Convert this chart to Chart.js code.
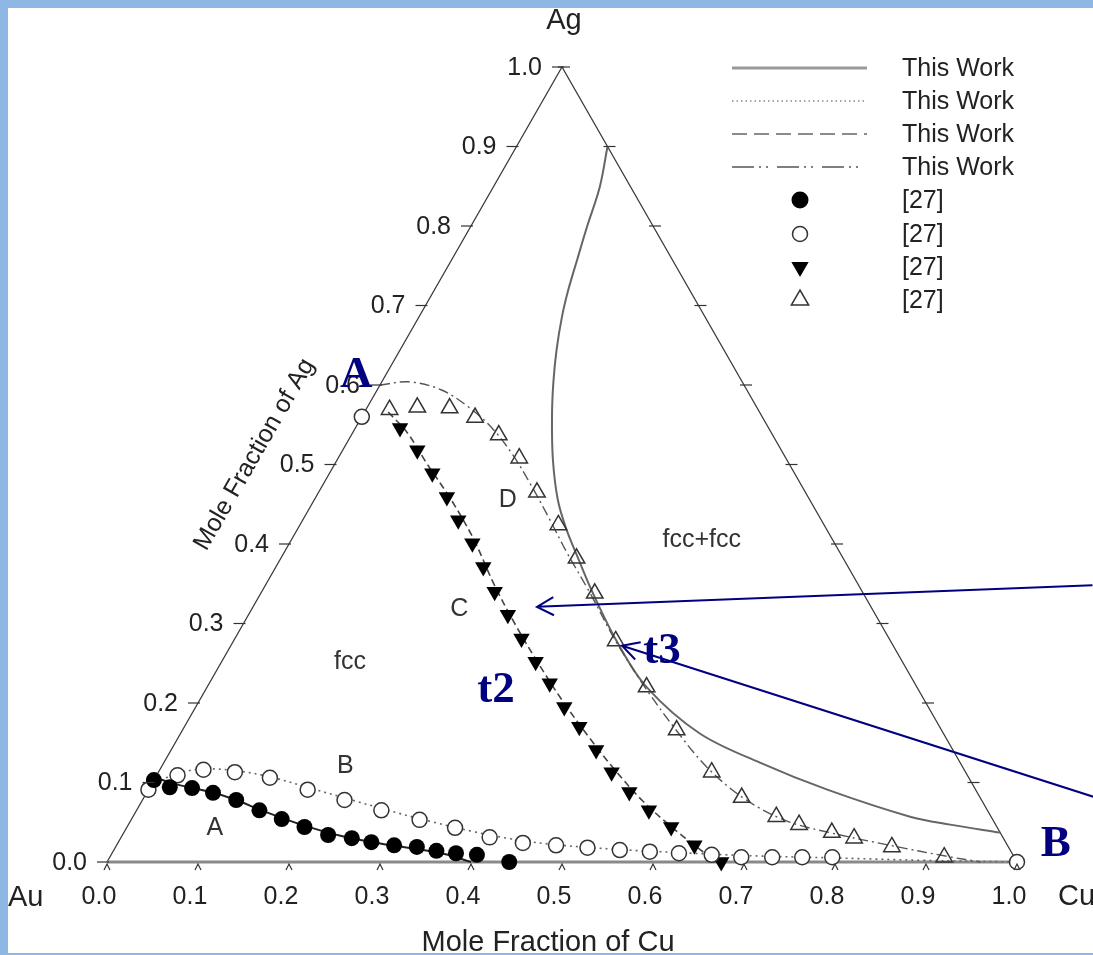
<!DOCTYPE html>
<html>
<head>
<meta charset="utf-8">
<script src="https://cdn.jsdelivr.net/npm/chart.js@4"></script>
<style>
html, body { margin: 0; padding: 0; background: #8fb7e5; }
canvas { display: block; }
</style>
</head>
<body>
<canvas id="myChart" width="1093" height="955"></canvas>
<script>
// every point is [mole fraction Cu, mole fraction Ag]
var filledCircles = [[0.0,0.103],[0.022,0.094],[0.047,0.093],[0.073,0.087],[0.103,0.078],[0.135,0.065],[0.165,0.054],[0.195,0.044],[0.226,0.034],[0.254,0.030],[0.278,0.025],[0.305,0.021],[0.331,0.019],[0.355,0.014],[0.378,0.011],[0.402,0.009],[0.442,0.0]];
var openCircles = [[0.0,0.091],[0.023,0.109],[0.048,0.116],[0.084,0.113],[0.126,0.106],[0.175,0.091],[0.222,0.078],[0.269,0.065],[0.317,0.053],[0.361,0.043],[0.405,0.031],[0.445,0.024],[0.483,0.021],[0.519,0.018],[0.556,0.015],[0.590,0.013],[0.623,0.011],[0.660,0.009],[0.694,0.006],[0.728,0.006],[0.761,0.006],[0.794,0.006],[1.0,0.0],[0.0,0.56]];
var filledTriangles = [[0.049,0.546],[0.082,0.518],[0.113,0.489],[0.144,0.459],[0.171,0.430],[0.201,0.401],[0.228,0.371],[0.256,0.340],[0.285,0.311],[0.315,0.281],[0.345,0.252],[0.374,0.225],[0.405,0.195],[0.434,0.170],[0.467,0.141],[0.498,0.113],[0.530,0.088],[0.563,0.065],[0.598,0.044],[0.635,0.021],[0.675,0.0]];
var openTriangles = [[0.026,0.569],[0.055,0.572],[0.091,0.571],[0.125,0.559],[0.162,0.537],[0.199,0.508],[0.240,0.465],[0.284,0.424],[0.325,0.382],[0.367,0.338],[0.420,0.278],[0.483,0.220],[0.543,0.166],[0.608,0.113],[0.657,0.081],[0.707,0.057],[0.737,0.047],[0.778,0.037],[0.806,0.030],[0.853,0.019],[0.917,0.006]];

// calculated curves ("This Work")
var solidCalc = [[0.0,0.106],[0.03,0.097],[0.07,0.088],[0.10,0.079],[0.14,0.064],[0.19,0.047],[0.24,0.033],[0.29,0.023],[0.34,0.015],[0.37,0.009],[0.40,0.0]];
var dottedCalc = [[0.0,0.095],[0.02,0.111],[0.05,0.117],[0.09,0.114],[0.13,0.106],[0.18,0.092],[0.23,0.078],[0.28,0.064],[0.33,0.051],[0.38,0.039],[0.43,0.029],[0.48,0.022],[0.55,0.016],[0.62,0.012],[0.70,0.008],[0.80,0.005],[0.90,0.002],[1.0,0.0]];
var dashedCalc = [[0.026,0.566],[0.06,0.540],[0.10,0.502],[0.15,0.456],[0.20,0.406],[0.25,0.350],[0.30,0.298],[0.35,0.249],[0.40,0.202],[0.45,0.158],[0.50,0.116],[0.55,0.077],[0.60,0.043],[0.64,0.018],[0.67,0.0]];
var dashDotCalc = [[0.0,0.600],[0.03,0.604],[0.07,0.594],[0.11,0.573],[0.15,0.546],[0.19,0.512],[0.23,0.473],[0.27,0.432],[0.31,0.390],[0.36,0.340],[0.42,0.278],[0.48,0.221],[0.54,0.168],[0.60,0.119],[0.66,0.080],[0.72,0.052],[0.78,0.036],[0.85,0.021],[0.92,0.007],[0.96,0.0]];
var twoPhaseCalc = [[0.10,0.90],[0.117,0.849],[0.128,0.799],[0.138,0.757],[0.147,0.720],[0.157,0.686],[0.172,0.644],[0.189,0.603],[0.209,0.560],[0.237,0.506],[0.268,0.455],[0.296,0.418],[0.325,0.384],[0.365,0.338],[0.423,0.276],[0.483,0.220],[0.570,0.162],[0.655,0.125],[0.746,0.091],[0.854,0.057],[0.903,0.047],[0.963,0.037]];

var triangleEdges = [[0,0],[0,1],[1,0]];
var baseEdge = [[0,0],[1,0]];

var tickValues = [0,0.1,0.2,0.3,0.4,0.5,0.6,0.7,0.8,0.9,1.0];
var tickLabels = ["0.0","0.1","0.2","0.3","0.4","0.5","0.6","0.7","0.8","0.9","1.0"];

var legendLabels = ["This Work","This Work","This Work","This Work","[27]","[27]","[27]","[27]"];

var regionLabels = ["A","B","C","D","fcc","fcc+fcc"];
var regionPos = [[0.097,0.043],[0.202,0.120],[0.228,0.318],[0.213,0.455],[0.141,0.252],[0.451,0.405]];

var markLabels = ["A","B","t2","t3"];
var markPos = [[-0.033,0.614],[1.030,0.025],[0.318,0.219],[0.476,0.268]];
var arrowTails = [[0.909,0.348],[1.043,0.082]];
var arrowTips = [[0.312,0.321],[0.430,0.272]];

function toXY(list) {
  return list.map(function (p) { return { x: p[0] + p[1] / 2, y: p[1] }; });
}

function pix(chart, p) {
  return [chart.scales.x.getPixelForValue(p[0] + p[1] / 2), chart.scales.y.getPixelForValue(p[1])];
}

var SANS = '"Liberation Sans", Arial, sans-serif';
var SERIF = '"Liberation Serif", "Times New Roman", serif';

function drawMarker(ctx, kind, x, y) {
  ctx.save();
  ctx.lineWidth = 1.5;
  ctx.strokeStyle = '#333';
  ctx.fillStyle = '#000';
  ctx.beginPath();
  if (kind === 0) {
    ctx.arc(x, y, 8.5, 0, Math.PI * 2);
    ctx.fill();
  } else if (kind === 1) {
    ctx.arc(x, y, 7.5, 0, Math.PI * 2);
    ctx.fillStyle = '#fff';
    ctx.fill();
    ctx.stroke();
  } else {
    var r = 10, s = kind === 2 ? 1 : -1;
    ctx.moveTo(x, y + s * r);
    ctx.lineTo(x - r * 0.866, y - s * r / 2);
    ctx.lineTo(x + r * 0.866, y - s * r / 2);
    ctx.closePath();
    if (kind === 2) ctx.fill(); else ctx.stroke();
  }
  ctx.restore();
}

var ternaryDecor = {
  id: 'ternaryDecor',
  beforeDraw: function (chart) {
    var ctx = chart.ctx;
    ctx.save();
    ctx.fillStyle = '#ffffff';
    ctx.fillRect(8, 8, chart.width - 8, chart.height - 10);
    ctx.restore();
  },
  afterDraw: function (chart) {
    var ctx = chart.ctx;
    ctx.save();
    ctx.strokeStyle = '#333';
    ctx.lineWidth = 1.2;
    ctx.fillStyle = '#222';
    ctx.font = '25px ' + SANS;

    // left edge: mole fraction of Ag
    ctx.textAlign = 'right';
    ctx.textBaseline = 'middle';
    tickValues.forEach(function (v, i) {
      var p = pix(chart, [0, v]);
      ctx.beginPath();
      ctx.moveTo(p[0] - 10, p[1]);
      ctx.lineTo(p[0] + 2, p[1]);
      ctx.stroke();
      ctx.fillText(tickLabels[i], p[0] - 20, p[1] + 1);
    });

    // bottom edge: mole fraction of Cu
    ctx.textAlign = 'center';
    tickValues.forEach(function (v, i) {
      var p = pix(chart, [v, 0]);
      ctx.beginPath();
      ctx.moveTo(p[0] - 3, p[1] + 8);
      ctx.lineTo(p[0], p[1] + 2);
      ctx.lineTo(p[0] + 3, p[1] + 8);
      ctx.stroke();
      ctx.fillText(tickLabels[i], p[0] - 8, p[1] + 35);
    });

    // right edge ticks
    tickValues.forEach(function (v) {
      if (v === 0) return;
      var p = pix(chart, [1 - v, v]);
      ctx.beginPath();
      ctx.moveTo(p[0] - 4, p[1]);
      ctx.lineTo(p[0] + 8, p[1]);
      ctx.stroke();
    });

    // corner names and axis titles
    ctx.font = '29px ' + SANS;
    var top = pix(chart, [0, 1]);
    ctx.fillText('Ag', top[0] + 2, top[1] - 46);
    var au = pix(chart, [0, 0]);
    ctx.textAlign = 'left';
    ctx.fillText('Au', 8, au[1] + 36);
    var cu = pix(chart, [1, 0]);
    ctx.fillText('Cu', cu[0] + 41, cu[1] + 35);

    ctx.textAlign = 'center';
    ctx.textBaseline = 'alphabetic';
    ctx.font = '29px ' + SANS;
    ctx.fillText('Mole Fraction of Cu', (au[0] + cu[0]) / 2 - 14, 951);

    var mid = pix(chart, [0, 0.5]);
    ctx.save();
    ctx.translate(mid[0] - 80, mid[1] - 10);
    ctx.rotate(-Math.PI / 3);
    ctx.textBaseline = 'middle';
    ctx.font = '25px ' + SANS;
    ctx.fillText('Mole Fraction of Ag', 0, 0);
    ctx.restore();

    // region labels
    ctx.font = '25px ' + SANS;
    ctx.fillStyle = '#333';
    ctx.textBaseline = 'middle';
    regionLabels.forEach(function (t, i) {
      var p = pix(chart, regionPos[i]);
      ctx.fillText(t, p[0], p[1]);
    });

    // legend
    var lx0 = 732, lx1 = 867, tx = 902, mx = 800;
    var rows = [68, 101, 134, 167, 200, 234, 267, 300];
    var dashes = [[], [1.5, 3], [15, 7], [22, 5, 2, 5, 2, 9]];
    var lcolors = ['#999', '#888', '#666', '#555'];
    legendLabels.forEach(function (t, i) {
      var y = rows[i];
      if (i < 4) {
        ctx.save();
        ctx.strokeStyle = lcolors[i];
        ctx.lineWidth = i === 0 ? 3 : 1.6;
        ctx.setLineDash(dashes[i]);
        ctx.beginPath();
        ctx.moveTo(lx0, y);
        ctx.lineTo(lx1, y);
        ctx.stroke();
        ctx.restore();
      } else {
        drawMarker(ctx, i - 4, mx, y);
      }
      ctx.fillStyle = '#222';
      ctx.font = '25px ' + SANS;
      ctx.textAlign = 'left';
      ctx.textBaseline = 'middle';
      ctx.fillText(t, tx, y + 1);
    });

    // annotation arrows and big labels
    ctx.strokeStyle = '#000080';
    ctx.lineWidth = 2;
    arrowTails.forEach(function (tail, i) {
      var a = pix(chart, tail), b = pix(chart, arrowTips[i]);
      var ang = Math.atan2(a[1] - b[1], a[0] - b[0]);
      ctx.beginPath();
      ctx.moveTo(a[0], a[1]);
      ctx.lineTo(b[0], b[1]);
      ctx.moveTo(b[0] + 19 * Math.cos(ang + 0.5), b[1] + 19 * Math.sin(ang + 0.5));
      ctx.lineTo(b[0], b[1]);
      ctx.lineTo(b[0] + 19 * Math.cos(ang - 0.5), b[1] + 19 * Math.sin(ang - 0.5));
      ctx.stroke();
    });
    ctx.fillStyle = '#000080';
    ctx.font = 'bold 45px ' + SERIF;
    ctx.textAlign = 'center';
    ctx.textBaseline = 'middle';
    markLabels.forEach(function (t, i) {
      var p = pix(chart, markPos[i]);
      ctx.fillText(t, p[0], p[1] + 2);
    });
    ctx.restore();
  }
};

function lineSet(list, color, width, dash) {
  return {
    data: toXY(list),
    showLine: true,
    borderColor: color,
    borderWidth: width,
    borderDash: dash,
    pointRadius: 0,
    tension: 0.35,
    clip: false
  };
}

function markSet(list, style, rot, fill, radius) {
  return {
    data: toXY(list),
    showLine: false,
    pointStyle: style,
    rotation: rot,
    pointRadius: radius,
    pointBackgroundColor: fill,
    pointBorderColor: '#333',
    pointBorderWidth: fill === '#000' ? 0 : 1.5,
    clip: false
  };
}

new Chart("myChart", {
  type: "scatter",
  data: {
    datasets: [
      markSet(filledCircles, 'circle', 0, '#000', 8),
      markSet(openCircles, 'circle', 0, '#fff', 7.5),
      markSet(filledTriangles, 'triangle', 180, '#000', 9.5),
      markSet(openTriangles, 'triangle', 0, 'rgba(255,255,255,0)', 9.5),
      lineSet(solidCalc, '#222', 2, []),
      lineSet(dottedCalc, '#666', 1.6, [2, 4]),
      lineSet(dashedCalc, '#444', 1.6, [7, 4]),
      lineSet(dashDotCalc, '#555', 1.4, [10, 4, 2, 4]),
      lineSet(twoPhaseCalc, '#666', 2, []),
      Object.assign(lineSet(baseEdge, '#8a8a8a', 3, []), { tension: 0 }),
      Object.assign(lineSet(triangleEdges, '#3a3a3a', 1.3, []), { tension: 0 })
    ]
  },
  options: {
    responsive: false,
    devicePixelRatio: 1,
    animation: false,
    layout: { padding: { left: 107, right: 76, top: 67, bottom: 93 } },
    scales: {
      x: { type: 'linear', min: 0, max: 1, display: false },
      y: { type: 'linear', min: 0, max: 1, display: false }
    },
    plugins: {
      legend: { display: false },
      tooltip: { enabled: false }
    }
  },
  plugins: [ternaryDecor]
});
</script>
</body>
</html>
